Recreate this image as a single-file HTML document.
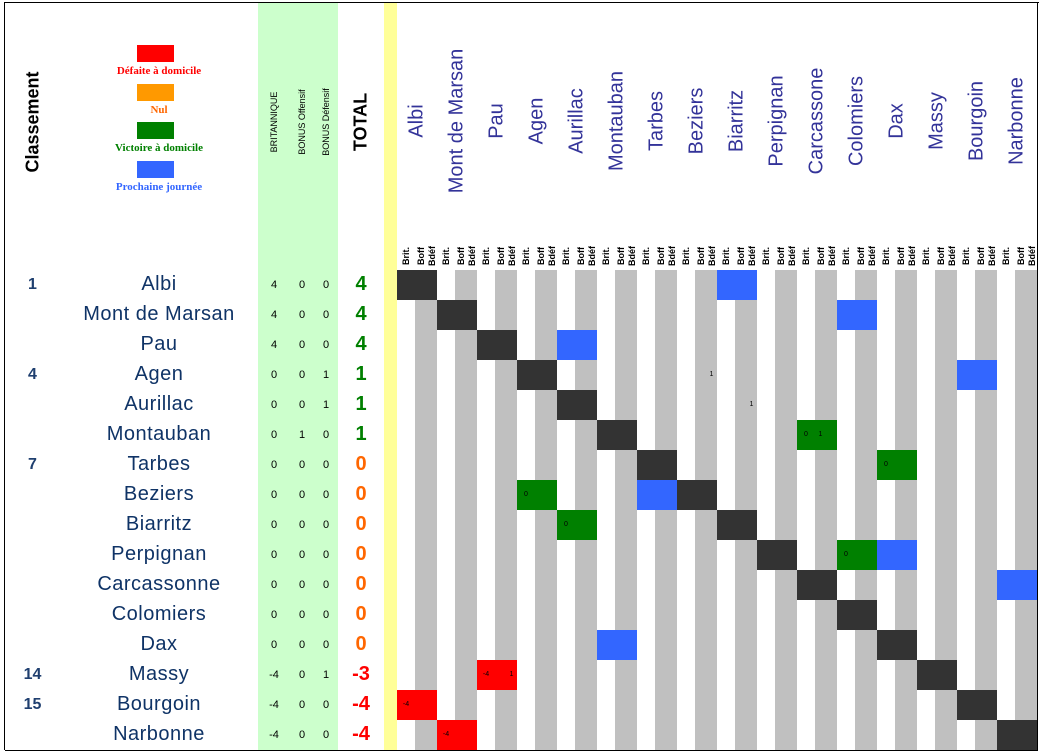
<!DOCTYPE html>
<html><head><meta charset="utf-8">
<style>
body{margin:0;background:#fff;width:1043px;height:754px;overflow:hidden;position:relative;font-family:"Liberation Sans",sans-serif}
.c{position:absolute;box-sizing:border-box;border-right:1px solid #000;border-bottom:1px solid #000}
.t{position:absolute;white-space:nowrap}
.rot{position:absolute;transform:translate(-50%,-50%) rotate(-90deg);white-space:nowrap}
</style></head>
<body>
<div id="root"></div>
<script>
const teams=["Albi","Mont de Marsan","Pau","Agen","Aurillac","Montauban","Tarbes","Beziers","Biarritz","Perpignan","Carcassonne","Colomiers","Dax","Massy","Bourgoin","Narbonne"];
const headerTeams=["Albi","Mont de Marsan","Pau","Agen","Aurillac","Montauban","Tarbes","Beziers","Biarritz","Perpignan","Carcassone","Colomiers","Dax","Massy","Bourgoin","Narbonne"];
const ranks=["1","","","4","","","7","","","","","","","14","15",""];
const brit=[4,4,4,0,0,0,0,0,0,0,0,0,0,-4,-4,-4];
const boff=[0,0,0,0,0,1,0,0,0,0,0,0,0,0,0,0];
const bdef=[0,0,0,1,1,0,0,0,0,0,0,0,0,1,0,0];
const totals=[4,4,4,1,1,1,0,0,0,0,0,0,0,-3,-4,-4];
// match cells: [row, col, type, brit, boff, bdef]
const matches=[[0,8,"n","","",""],[1,11,"n","","",""],[2,4,"n","","",""],[3,14,"n","","",""],[3,7,"e","","","1"],[4,8,"e","","","1"],
[5,10,"v","0","1",""],[6,12,"v","0","",""],[7,3,"v","0","",""],[7,6,"n","","",""],[8,4,"v","0","",""],[9,11,"v","0","",""],[9,12,"n","","",""],
[10,15,"n","","",""],[12,5,"n","","",""],[13,2,"d","-4","","1"],[14,0,"d","-4","",""],[15,1,"d","-4","",""]];
const colors={n:"#3366ff",v:"#008000",d:"#ff0000"};
const root=document.getElementById('root');
function cell(x,y,w,h,bg,name){const d=document.createElement('div');d.className='c';


d.style.cssText=`left:${x}px;top:${y}px;width:${w+1}px;height:${h+1}px;background:${bg}`;root.appendChild(d);return d;}
function txt(parent,s,css,name,rot){const t=document.createElement('div');t.className=rot?'rot':'t';t.textContent=s;


t.style.cssText+=css;parent.appendChild(t);return t;}
// frame
const fr=document.createElement('div');fr.style.cssText='position:absolute;left:4px;top:2px;width:1px;height:748px;background:#000';


root.appendChild(fr);
const ft=document.createElement('div');ft.style.cssText='position:absolute;left:4px;top:2px;width:1035px;height:1px;background:#000';


root.appendChild(ft);
const X0=397,BW=40,Y0=270,RH=30;
const cols=[[5,60],[60,258],[258,290],[290,314],[314,338],[338,384],[384,397]];
const bgs=["#fff","#fff","#ccffcc","#ccffcc","#ccffcc","#fff","#ffff99"];
// header
const h0=cell(5,3,55,237,"#fff","classement-header");
txt(h0,"Classement","left:28px;top:119px;font-weight:bold;font-size:18px","classement-label",1);
const h1=cell(60,3,198,237,"#fff","legend");
const leg=[["#ff0000","Défaite à domicile","#ff0000"],["#ff9900","Nul","#ff6600"],["#008000","Victoire à domicile","#008000"],["#3366ff","Prochaine journée","#3366ff"]];
leg.forEach((l,i)=>{const sw=document.createElement('div');sw.style.cssText=`position:absolute;left:77px;top:${42+i*38.5}px;width:37px;height:17px;background:${l[0]}`;


h1.appendChild(sw);
txt(h1,l[1],`left:0;width:198px;text-align:center;top:${62+i*38.5}px;font-family:'Liberation Serif',serif;font-weight:bold;font-size:11px;color:${l[2]}`,'legend-label');});
const hl=[["BRITANNIQUE","britannique-header"],["BONUS Offensif","bonus-off-header"],["BONUS Défensif","bonus-def-header"]];
hl.forEach((h,i)=>{const c=cols[i+2];const d=cell(c[0],3,c[1]-c[0],237,"#ccffcc",h[1]);
txt(d,h[0],`left:${(c[1]-c[0])/2}px;top:119px;font-size:9px`,h[1]+'-label',1);});
const ht=cell(338,3,46,237,"#fff","total-header");txt(ht,"TOTAL","left:23px;top:119px;font-weight:bold;font-size:18px","total-label",1);
cell(384,3,13,237,"#ffff99","spacer-header");
headerTeams.forEach((n,i)=>{const d=cell(X0+i*BW,3,BW,237,"#fff","team-header-"+i);
txt(d,n,"left:20px;top:118px;font-size:20px;color:#333399","team-header-label",1);});
// subheader
cols.forEach((c,i)=>cell(c[0],240,c[1]-c[0],30,bgs[i],"subheader-cell"));
const sub=[[0,18,"Brit."],[18,11,"Boff"],[29,11,"Bdéf"]];
for(let i=0;i<16;i++)sub.forEach(s=>{const d=cell(X0+i*BW+s[0],240,s[1],30,"#fff","subheader-"+s[2]);
txt(d,s[2],`left:${s[1]/2}px;top:16px;font-weight:bold;font-size:9px`,'subheader-label',1);});
// rows
const totCol=v=>v>0?"#008000":(v<0?"#ff0000":"#ff6600");
for(let r=0;r<16;r++){const y=Y0+r*RH;
const a=cell(5,y,55,RH,"#fff","rank-cell");txt(a,ranks[r],"left:0;width:55px;text-align:center;top:6px;font-size:16px;font-weight:bold;color:#1f3f6f","rank-value");
const b=cell(60,y,198,RH,"#fff","team-name-cell");txt(b,teams[r],"left:0;width:198px;text-align:center;top:3px;font-size:20px;color:#0f3366;letter-spacing:0.5px","team-name");
[brit[r],boff[r],bdef[r]].forEach((v,i)=>{const c=cols[i+2];const d=cell(c[0],y,c[1]-c[0],RH,"#ccffcc","points-cell");
txt(d,String(v),`left:0;width:${c[1]-c[0]}px;text-align:center;top:9px;font-size:11px`,'points-value');});
const t=cell(338,y,46,RH,"#fff","total-cell");txt(t,String(totals[r]),`left:0;width:46px;text-align:center;top:3px;font-size:20px;font-weight:bold;color:${totCol(totals[r])}`,'total-value');
cell(384,y,13,RH,"#ffff99","spacer-cell");
for(let c=0;c<16;c++){const m=matches.find(m=>m[0]===r&&m[1]===c);
sub.forEach((s,k)=>{let bg=k===0?"#fff":"#c0c0c0";if(r===c)bg="#333333";else if(m&&m[2]!=="e")bg=colors[m[2]];
const d=cell(X0+c*BW+s[0],y,s[1],RH,bg,"match-cell");
if(m&&m[3+k])txt(d,m[3+k],`left:0;width:${s[1]}px;text-align:center;top:11px;font-size:7px;color:#000`,'match-value');});}}
</script>
</body></html>
